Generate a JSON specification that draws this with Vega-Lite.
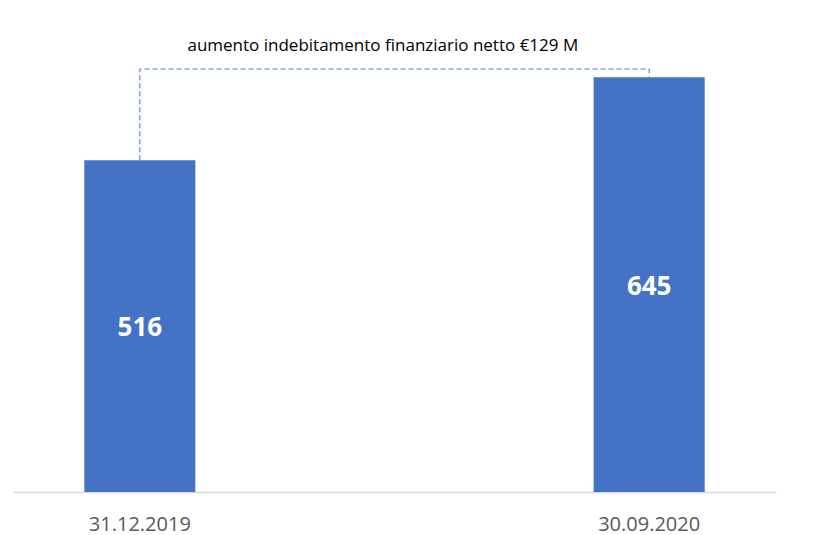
{
  "$schema": "https://vega.github.io/schema/vega-lite/v6.json",
  "width": 763,
  "height": 450,
  "autosize": {"type": "none"},
  "padding": {"left": 13, "top": 42, "right": 56, "bottom": 43},
  "background": "white",
  "config": {"view": {"stroke": null}},
  "datasets": {
    "bars": [
      {"date": "31.12.2019", "value": 516},
      {"date": "30.09.2020", "value": 645}
    ],
    "path": [
      {"date": "31.12.2019", "value": 516, "order": 1},
      {"date": "31.12.2019", "value": 658, "order": 2},
      {"date": "30.09.2020", "value": 658, "order": 3},
      {"date": "30.09.2020", "value": 645, "order": 4}
    ],
    "note": [
      {"date": "31.12.2019", "value": 694, "label": "aumento indebitamento finanziario netto  €129 M"}
    ]
  },
  "encoding": {
    "x": {
      "field": "date",
      "type": "nominal",
      "sort": ["31.12.2019", "30.09.2020"],
      "scale": {"paddingInner": 0.782, "paddingOuter": 0.14},
      "axis": {
        "title": null,
        "labelAngle": 0,
        "ticks": false,
        "labelPadding": 22,
        "labelFont": "Open Sans",
        "labelFontSize": 20,
        "labelColor": "#595959",
        "domainColor": "#d9d9d9",
        "domainWidth": 1.5
      }
    }
  },
  "layer": [
    {
      "layer": [
        {
          "data": {"name": "bars"},
          "mark": {"type": "bar", "color": "#4472C4"},
          "encoding": {
            "y": {"field": "value", "type": "quantitative", "scale": {"domain": [0, 700]}, "axis": null}
          }
        },
        {
          "data": {"name": "path"},
          "mark": {"type": "line", "color": "#4472C4", "strokeDash": [5, 3], "strokeWidth": 1},
          "encoding": {
            "y": {"field": "value", "type": "quantitative", "scale": {"domain": [0, 700]}, "axis": null},
            "order": {"field": "order", "type": "quantitative"}
          }
        },
        {
          "data": {"name": "note"},
          "mark": {"type": "text", "font": "Open Sans", "fontSize": 17, "color": "#000000", "align": "center", "baseline": "middle", "dx": 243},
          "encoding": {
            "y": {"field": "value", "type": "quantitative", "scale": {"domain": [0, 700]}, "axis": null},
            "text": {"field": "label"}
          }
        }
      ]
    },
    {
      "data": {"name": "bars"},
      "mark": {"type": "text", "color": "white", "font": "Open Sans", "fontWeight": "bold", "fontSize": 26, "baseline": "middle", "dy": 2},
      "encoding": {
        "y": {"field": "value", "type": "quantitative", "scale": {"domain": [0, 1400]}, "axis": null},
        "text": {"field": "value", "type": "quantitative"}
      }
    }
  ],
  "resolve": {"scale": {"y": "independent"}}
}
